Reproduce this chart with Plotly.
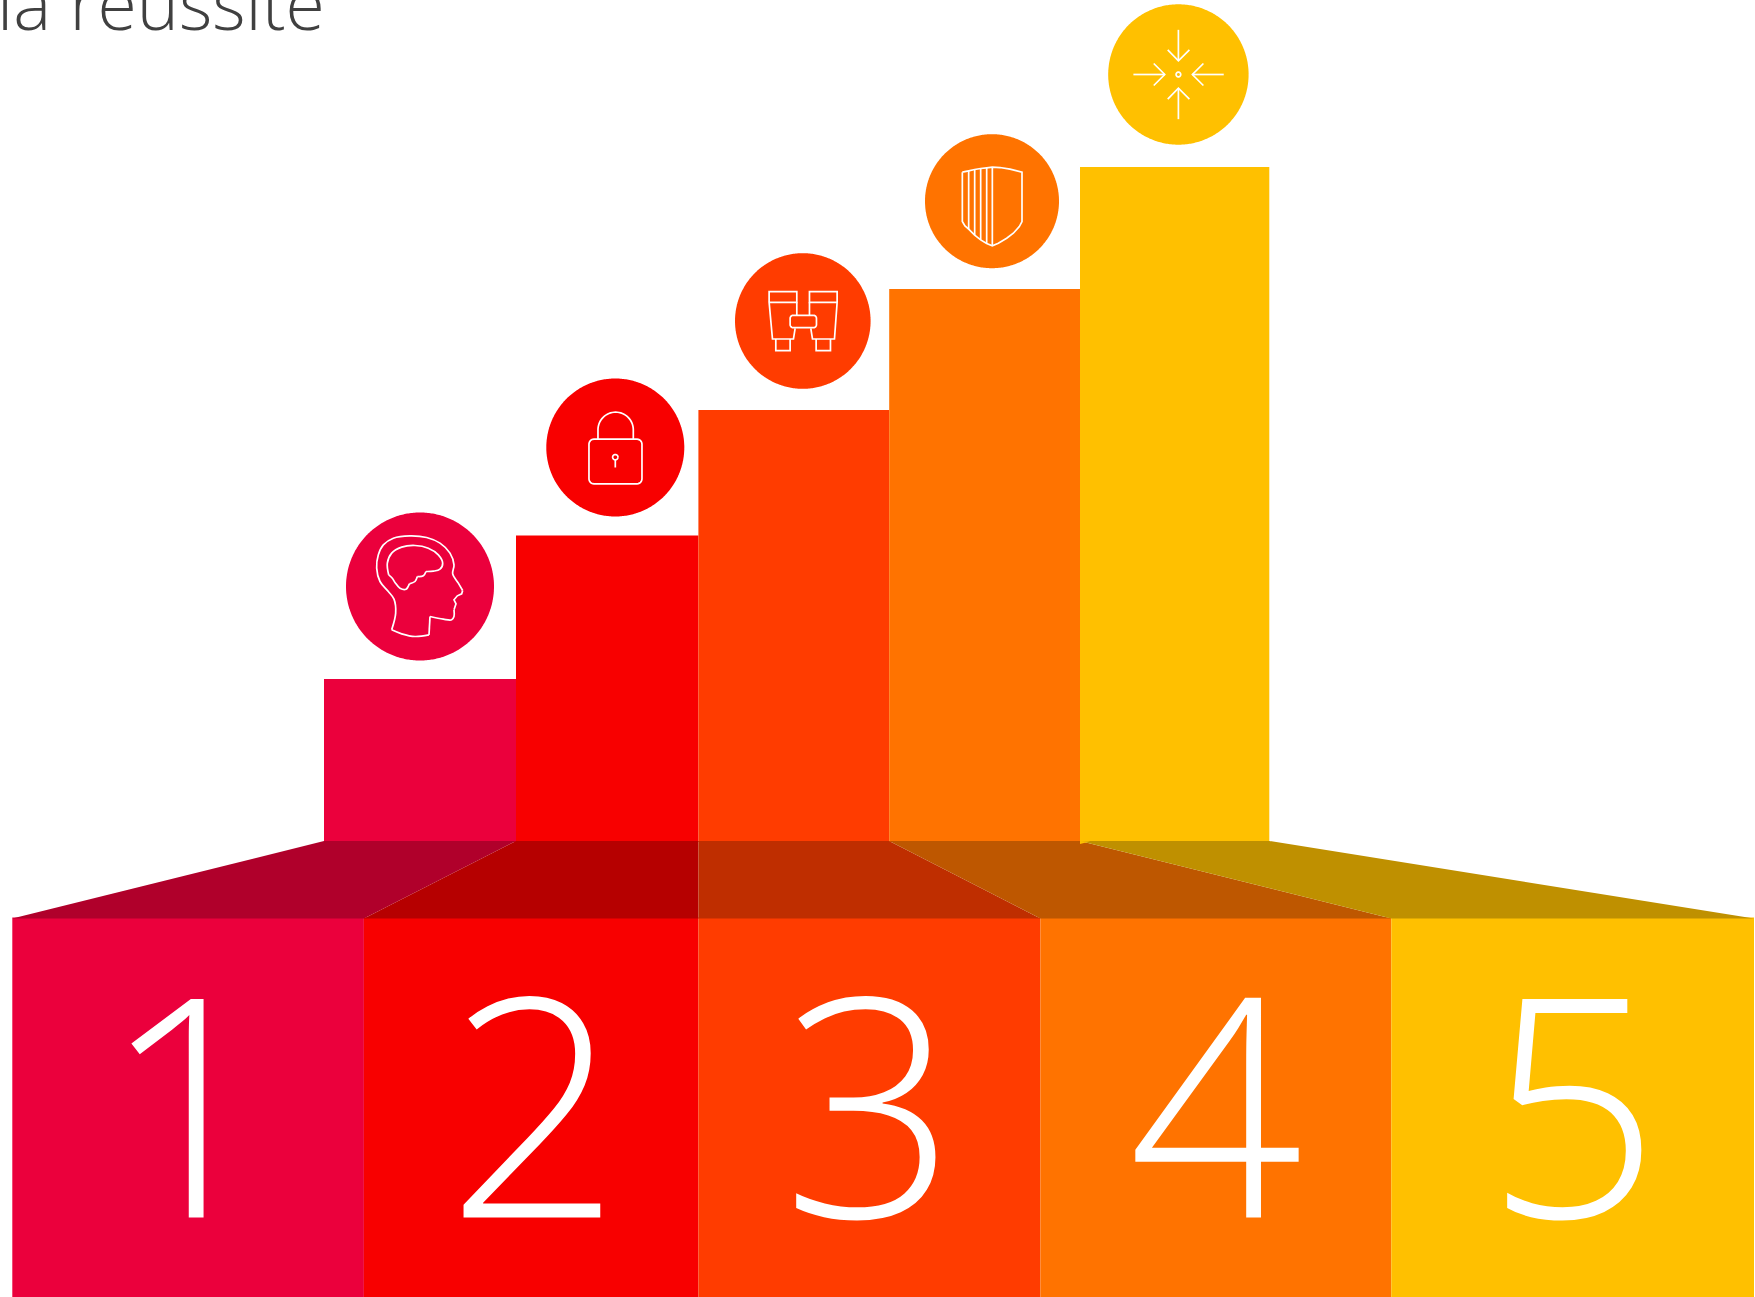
import math
import plotly.graph_objects as go

# ---------- data ----------
steps = ["1", "2", "3", "4", "5"]
title_text = "la réussite"
back_edges = [324, 516, 698.4, 889.2, 1080, 1269.3]
front_edges = [12.3, 363.9, 698.4, 1040.4, 1391.3, 1754]
bar_values = [162, 305.5, 431, 552, 674]
step_colors = ["#EB003C", "#F80000", "#FF3C00", "#FF7300", "#FFC000"]
floor_colors = ["#B0002B", "#B60000", "#BF2E00", "#BE5700", "#BF9000"]
digit_centers = [189, 534, 869.5, 1215.5, 1573]
circle_x = [420, 615.3, 802.8, 992, 1178.4]
circle_y = [254.5, 393.5, 520, 639.8, 766.5]
circle_r = [74, 69, 67.8, 67, 70.2]

W, H = 1755, 1297
FLOOR_PX = 841      # pixel row of value 0
FRONT_TOP_PX = 918.5
Y_MIN = FLOOR_PX - H
Y_MAX = FLOOR_PX
front_top = FLOOR_PX - FRONT_TOP_PX
TUCK = 1.0          # columns run this far under the floor so no pale seam shows


def rrect(x0, y0, x1, y1, r):
    pts = []
    for cx, cy, a0 in [(x1 - r, y0 + r, -90), (x1 - r, y1 - r, 0), (x0 + r, y1 - r, 90), (x0 + r, y0 + r, 180)]:
        for k in range(7):
            a = math.radians(a0 + 15 * k)
            pts.append((cx + r * math.cos(a), cy + r * math.sin(a)))
    pts.append(pts[0])
    return pts


def arc(cx, cy, r, a0=0, a1=360, n=32):
    return [(cx + r * math.cos(math.radians(a0 + (a1 - a0) * k / n)),
             cy + r * math.sin(math.radians(a0 + (a1 - a0) * k / n))) for k in range(n + 1)]


# icon outlines: (origin of drawing grid, smooth paths, straight paths), grid is 3 units per pixel
icon_head = ((270, 260), [
    [(185, 390), (215, 402), (255, 410), (297, 405)],
    [(300, 350), (340, 358), (365, 360), (372, 350), (372, 330)],
    [(398, 272), (385, 250), (368, 222), (372, 195), (360, 160), (330, 130), (290, 113), (240, 108), (190, 115),
     (160, 135), (145, 165), (140, 205), (150, 245), (175, 275), (192, 298), (197, 340), (185, 390)],
    [(176, 225), (172, 190), (185, 160), (215, 142), (255, 137), (295, 145), (325, 165), (338, 190), (330, 208),
     (310, 214), (288, 215)],
    [(288, 215), (280, 228), (262, 230)],
    [(262, 230), (255, 245), (238, 252)],
    [(238, 252), (228, 268), (210, 265), (195, 248), (187, 235), (176, 225)],
], [
    [(297, 405), (300, 350)],
    [(372, 330), (378, 312), (372, 300), (382, 288), (395, 282), (398, 272)],
])
icon_lock = ((226, 233), [], [
    rrect(147, 208, 306, 342, 15),
    [(174, 208), (174, 180)] + arc(227, 180, 53, 180, 360) + [(280, 208)],
    arc(226, 262, 8),
    [(226, 270), (226, 293)],
])
icon_binoculars = ((218, 213), [], [
    [(117, 157), (117, 125), (200, 125), (200, 157), (117, 157), (127, 267), (190, 267), (195, 235)],
    [(200, 157), (200, 195)],
    [(137, 267), (137, 302), (180, 302), (180, 267)],
    [(321, 157), (321, 125), (238, 125), (238, 157), (321, 157), (313, 267), (247, 267), (242, 235)],
    [(238, 157), (238, 195)],
    [(258, 267), (258, 302), (301, 302), (301, 267)],
    rrect(180, 196, 259, 233, 9),
])
icon_shield = ((216, 214), [], [
    [(127, 127), (146, 123), (164, 119), (182, 116), (200, 114), (217, 112), (240, 113), (270, 118), (306, 127),
     (306, 275), (298, 290), (280, 310), (260, 325), (235, 340), (217, 348), (200, 341), (182, 330), (164, 316),
     (146, 298), (135, 288), (127, 275), (127, 127)],
    [(146, 123), (146, 298)], [(164, 119), (164, 316)], [(182, 116), (182, 330)], [(200, 114), (200, 341)],
    [(217, 112), (217, 348)],
])
icon_arrows = ((235, 224), [], [
    [(235, 90), (235, 183)], [(203, 150), (235, 183), (268, 150)],
    [(235, 358), (235, 265)], [(203, 298), (235, 265), (268, 298)],
    [(100, 224), (194, 224)], [(161, 191), (194, 224), (161, 257)],
    [(371, 224), (277, 224)], [(310, 191), (277, 224), (310, 257)],
    arc(235, 224, 7),
])
icons = [icon_head, icon_lock, icon_binoculars, icon_shield, icon_arrows]

fig = go.Figure()

# back columns
fig.add_trace(go.Bar(
    x=[(a + b) / 2 for a, b in zip(back_edges, back_edges[1:])],
    width=[b - a for a, b in zip(back_edges, back_edges[1:])],
    y=[v + TUCK for v in bar_values], base=[-TUCK] * 5,
    marker=dict(color=step_colors, line_width=0), hoverinfo="skip",
))
# front panels
fig.add_trace(go.Bar(
    x=[(a + b) / 2 for a, b in zip(front_edges, front_edges[1:])],
    width=[b - a for a, b in zip(front_edges, front_edges[1:])],
    y=[front_top - Y_MIN + TUCK] * 5, base=[Y_MIN] * 5,
    marker=dict(color=step_colors, line_width=0), hoverinfo="skip",
))
# floor trapezoids
for i in range(5):
    fig.add_trace(go.Scatter(
        x=[back_edges[i], back_edges[i + 1], front_edges[i + 1], front_edges[i], back_edges[i]],
        y=[0, 0, front_top, front_top, 0],
        mode="lines", fill="toself", fillcolor=floor_colors[i], line_width=0, hoverinfo="skip",
    ))
# the last column's foot shows a sliver past the floor edge
fig.add_trace(go.Scatter(
    x=[back_edges[4], back_edges[4] + 10, back_edges[4], back_edges[4]], y=[0, -0.5, -3, 0],
    mode="lines", fill="toself", fillcolor=step_colors[4], line_width=0, hoverinfo="skip",
))
# badges
for cx, cy, r, color in zip(circle_x, circle_y, circle_r, step_colors):
    ring = arc(cx, cy, r, n=360)
    fig.add_trace(go.Scatter(
        x=[p[0] for p in ring], y=[p[1] for p in ring], mode="lines", fill="toself", fillcolor=color,
        line=dict(width=0, simplify=False), hoverinfo="skip",
    ))
# icons
for cx, cy, (origin, smooth, straight) in zip(circle_x, circle_y, icons):
    for paths, shape in ((smooth, "spline"), (straight, "linear")):
        xs, ys = [], []
        for p in paths:
            xs += [cx + (u - origin[0]) / 3 for u, v in p] + [None]
            ys += [cy - (v - origin[1]) / 3 for u, v in p] + [None]
        if xs:
            fig.add_trace(go.Scatter(x=xs, y=ys, mode="lines", hoverinfo="skip",
                                     line=dict(color="white", width=1.7, shape=shape, simplify=False)))
# digits
fig.add_trace(go.Scatter(
    x=digit_centers, y=[FLOOR_PX - 1141] * 5, mode="text", text=steps, textposition="middle center",
    cliponaxis=False,
    textfont=dict(family="Open Sans", size=306, color="white", weight=300), hoverinfo="skip",
))

fig.add_annotation(x=0, y=FLOOR_PX - 31, xref="x", yref="y", xanchor="left", yanchor="bottom",
                   text=title_text, showarrow=False, yshift=-22, xshift=-5,
                   font=dict(family="Open Sans", size=71.5, color="#404040", weight=300))

fig.update_layout(
    width=W, height=H, margin=dict(l=0, r=0, t=0, b=0),
    paper_bgcolor="white", plot_bgcolor="white", showlegend=False, barmode="overlay",
    xaxis=dict(range=[0, W], visible=False, fixedrange=True),
    yaxis=dict(range=[Y_MIN, Y_MAX], visible=False, fixedrange=True),
)
fig.write_html("out.html", config={"displayModeBar": False},
               post_script="document.body.style.margin='0';document.body.style.overflow='hidden';")
